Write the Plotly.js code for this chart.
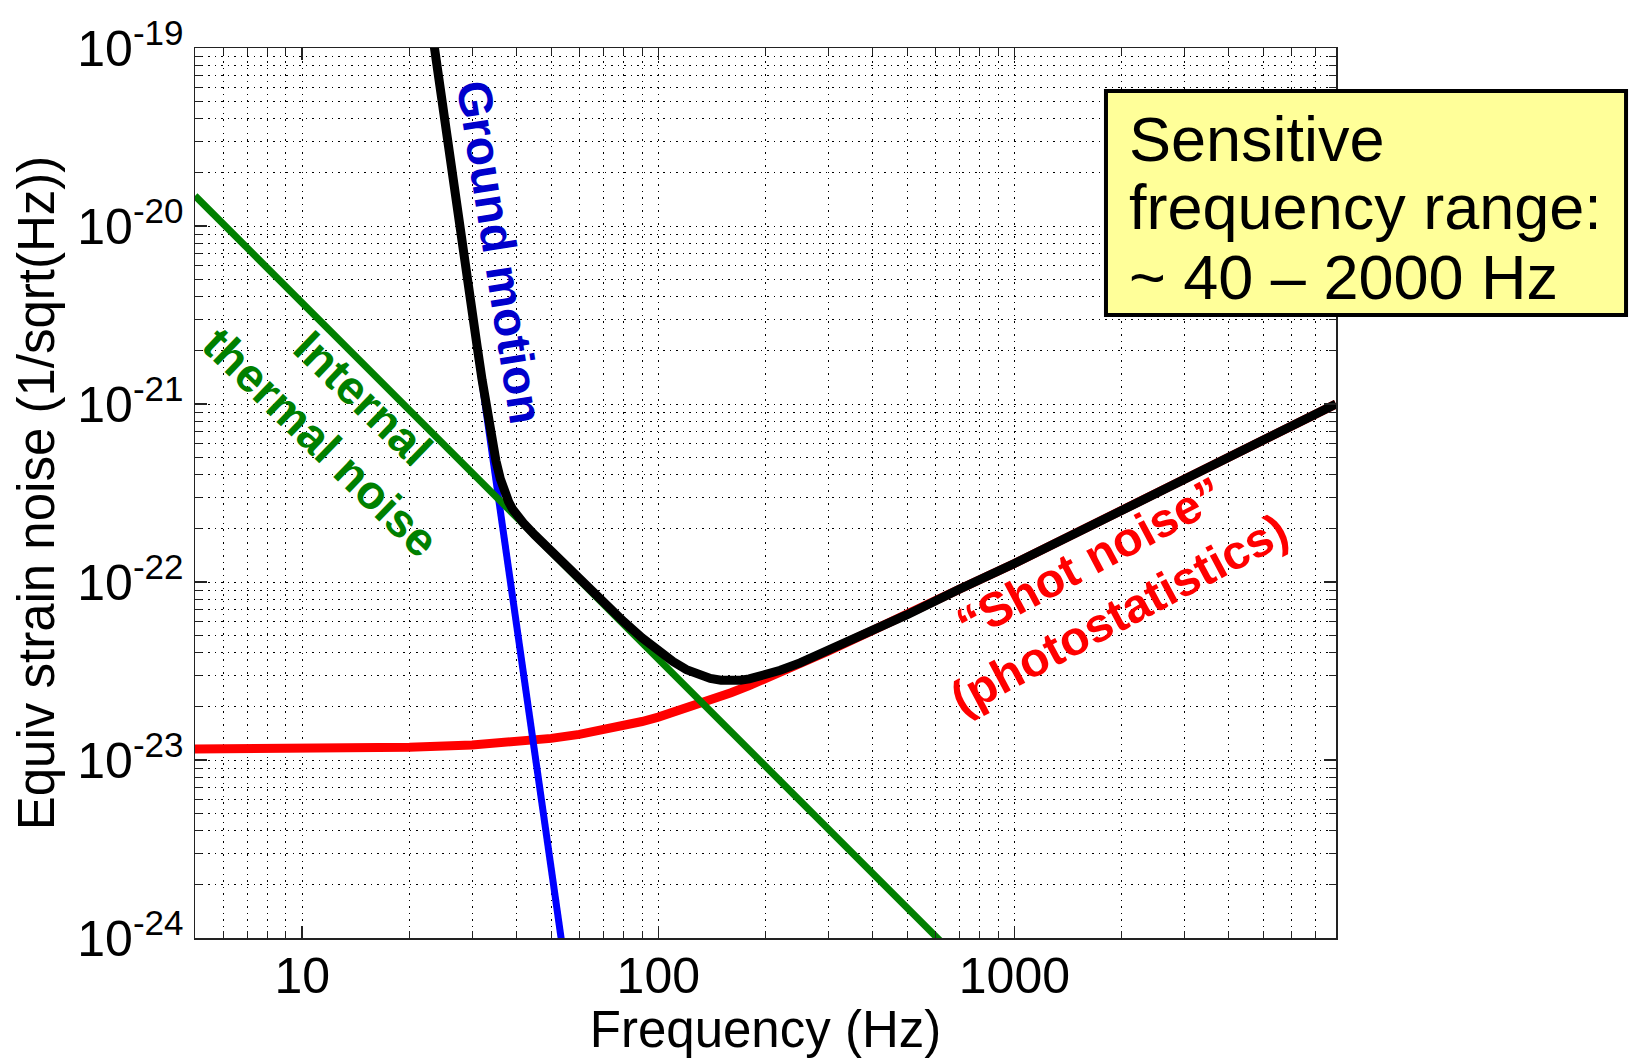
<!DOCTYPE html>
<html><head><meta charset="utf-8">
<script src="https://cdn.plot.ly/plotly-3.0.1.min.js"></script>
<style>html,body{margin:0;padding:0;background:#fff}#chart{width:1632px;height:1058px}</style>
</head><body><div id="chart"></div>
<script>
// ---- Data (frequency in Hz, strain noise in 1/sqrt(Hz)) ----
const thermalFreq  = [5, 620];
const thermalNoise = [1.48e-20, 9.6e-25];

const groundFreq  = [23.0, 55];
const groundNoise = [1.37e-19, 6.5e-25];

const shotFreq  = [5,10,20,30,40,50,60,70,80,90,100,120,140,160,180,200,250,300,400,500,700,1000,2000,4000,8000];
const shotNoise = [1.152e-23,1.157e-23,1.179e-23,1.215e-23,1.263e-23,1.323e-23,1.392e-23,1.469e-23,1.554e-23,1.645e-23,1.741e-23,
                   1.945e-23,2.161e-23,2.386e-23,2.618e-23,2.855e-23,3.463e-23,4.086e-23,5.35e-23,6.55e-23,9.1e-23,
                   1.27e-22,2.52e-22,5.0e-22,1.0e-21];

const totalFreq  = [23.0,23.5,24,25,26,27,28,29,30,31,32,33,34,35,36,37,38,39,40,42,45,50,55,60,70,80,90,100,110,120,130,140,150,160,170,180,200,220,250,300,400,500,700,1000,2000,4000,8000];
const totalNoise = [1.37e-19,1.0e-19,7.52e-20,4.24e-20,2.44e-20,1.435e-20,8.61e-21,5.28e-21,3.30e-21,2.10e-21,1.367e-21,9.20e-22,6.46e-22,4.80e-22,3.80e-22,3.20e-22,2.82e-22,2.56e-22,2.38e-22,
                    2.12e-22,1.835e-22,1.486e-22,1.2305e-22,1.037e-22,
                    7.69e-23,5.99e-23,4.86e-23,4.09e-23,3.57e-23,3.22e-23,3.0e-23,2.87e-23,2.805e-23,2.79e-23,2.81e-23,2.856e-23,
                    3.0e-23,3.19e-23,3.513e-23,4.107e-23,5.357e-23,6.55e-23,9.1e-23,
                    1.27e-22,2.52e-22,5.0e-22,1.0e-21];

// Tick values and labels
const xTickVals = [10, 100, 1000];
const xTickText = ['10', '100', '1000'];
const yTickVals = [1e-24, 1e-23, 1e-22, 1e-21, 1e-20, 1e-19];
const yTickText = ['10<sup>-24</sup>','10<sup>-23</sup>','10<sup>-22</sup>','10<sup>-21</sup>','10<sup>-20</sup>','10<sup>-19</sup>'];

// Text
const xTitle = 'Frequency (Hz)';
const yTitle = 'Equiv strain noise (1/sqrt(Hz))';
const groundLabel = 'Ground motion';
const thermalLabel = ['Internal', 'thermal noise'];
const shotLabel = ['\u201CShot noise\u201D', '(photostatistics)'];
const boxLines = ['Sensitive', 'frequency range:', '~ 40 \u2013 2000 Hz'];

// ---- minor grid positions (2..9 per decade) ----
const minorX = [];
[1, 10, 100, 1000].forEach(d => { for (let k = 2; k <= 9; k++) { const v = k * d; if (v > 5 && v < 8000) minorX.push(v); } });
const minorY = [];
[-24, -23, -22, -21, -20].forEach(e => { for (let k = 2; k <= 9; k++) minorY.push(k * Math.pow(10, e)); });

const FONT = 'Liberation Sans, Arial, Helvetica, sans-serif';
const AX = '#222';
const GRID = '#000';
const DASH = '1.5px,5px';

const traces = [
  {x: shotFreq, y: shotNoise, mode: 'lines', line: {color: '#FF0000', width: 9}, hoverinfo: 'skip'},
  {x: groundFreq, y: groundNoise, mode: 'lines', line: {color: '#0000FF', width: 7}, hoverinfo: 'skip'},
  {x: thermalFreq, y: thermalNoise, mode: 'lines', line: {color: '#008000', width: 7}, hoverinfo: 'skip'},
  {x: totalFreq, y: totalNoise, mode: 'lines', line: {color: '#000000', width: 9}, hoverinfo: 'skip'}
];

function axisCommon() {
  return {
    type: 'log', tickmode: 'array', ticks: 'inside', ticklen: 12, tickwidth: 1.5, tickcolor: AX,
    showline: true, linecolor: AX, linewidth: 1.5, mirror: 'allticks',
    showgrid: true, gridcolor: GRID, gridwidth: 1, griddash: DASH, zeroline: false, fixedrange: true,
    tickfont: {family: FONT, size: 50, color: '#000'}
  };
}

const xaxis = Object.assign(axisCommon(), {
  range: [Math.log10(5), Math.log10(8000)],
  tickvals: xTickVals, ticktext: xTickText,
  ticklabelstandoff: -7,
  minor: {tickmode: 'array', tickvals: minorX, ticks: 'inside', ticklen: 7, tickwidth: 1, tickcolor: AX,
          showgrid: true, gridcolor: GRID, gridwidth: 1, griddash: DASH},
  title: {text: xTitle, font: {family: FONT, size: 51, color: '#000'}}
});
const yaxis = Object.assign(axisCommon(), {
  range: [-24, -19],
  tickvals: yTickVals, ticktext: yTickText,
  automargin: true,
  minor: {tickmode: 'array', tickvals: minorY, ticks: 'inside', ticklen: 7, tickwidth: 1, tickcolor: AX,
          showgrid: true, gridcolor: GRID, gridwidth: 1, griddash: DASH},
  title: {text: yTitle, standoff: 6, font: {family: FONT, size: 51, color: '#000'}}
});

const annotations = [
  {xref: 'paper', yref: 'paper', x: 0.2670, y: 0.7700, text: '<b>' + groundLabel + '</b>', textangle: 81,
   showarrow: false, xanchor: 'center', yanchor: 'middle', font: {family: FONT, size: 48, color: '#0000CC'}},
  {xref: 'paper', yref: 'paper', x: 0.1288, y: 0.5815, text: thermalLabel.map(s => '<b>' + s + '</b>').join('<br>'), textangle: 44,
   showarrow: false, xanchor: 'center', yanchor: 'middle', font: {family: FONT, size: 47, color: '#008000'}},
  {xref: 'paper', yref: 'paper', x: 0.7967, y: 0.3944, text: shotLabel.map(s => '<b>' + s + '</b>').join('<br>'), textangle: -28,
   showarrow: false, xanchor: 'center', yanchor: 'middle', font: {family: FONT, size: 48, color: '#FF0000'}}
];
const boxY = [0.8983, 0.8216, 0.7429];
boxLines.forEach((t, i) => annotations.push({
  xref: 'paper', yref: 'paper', x: 0.8170, y: boxY[i], text: t, showarrow: false,
  xanchor: 'left', yanchor: 'middle', font: {family: FONT, size: 63, color: '#000'}
}));

const layout = {
  width: 1632, height: 1058,
  margin: {l: 195, r: 296, t: 48, b: 120, pad: 0},
  paper_bgcolor: '#fff', plot_bgcolor: '#fff',
  showlegend: false,
  font: {family: FONT, color: '#000'},
  xaxis: xaxis, yaxis: yaxis,
  annotations: annotations,
  shapes: [{type: 'rect', xref: 'paper', yref: 'paper', x0: 0.7984, x1: 1.2542, y0: 0.700, y1: 0.9517,
            fillcolor: '#FFFF99', line: {color: '#000', width: 4}, layer: 'above'}]
};

Plotly.newPlot('chart', traces, layout, {staticPlot: true, displayModeBar: false});
</script>
</body></html>
